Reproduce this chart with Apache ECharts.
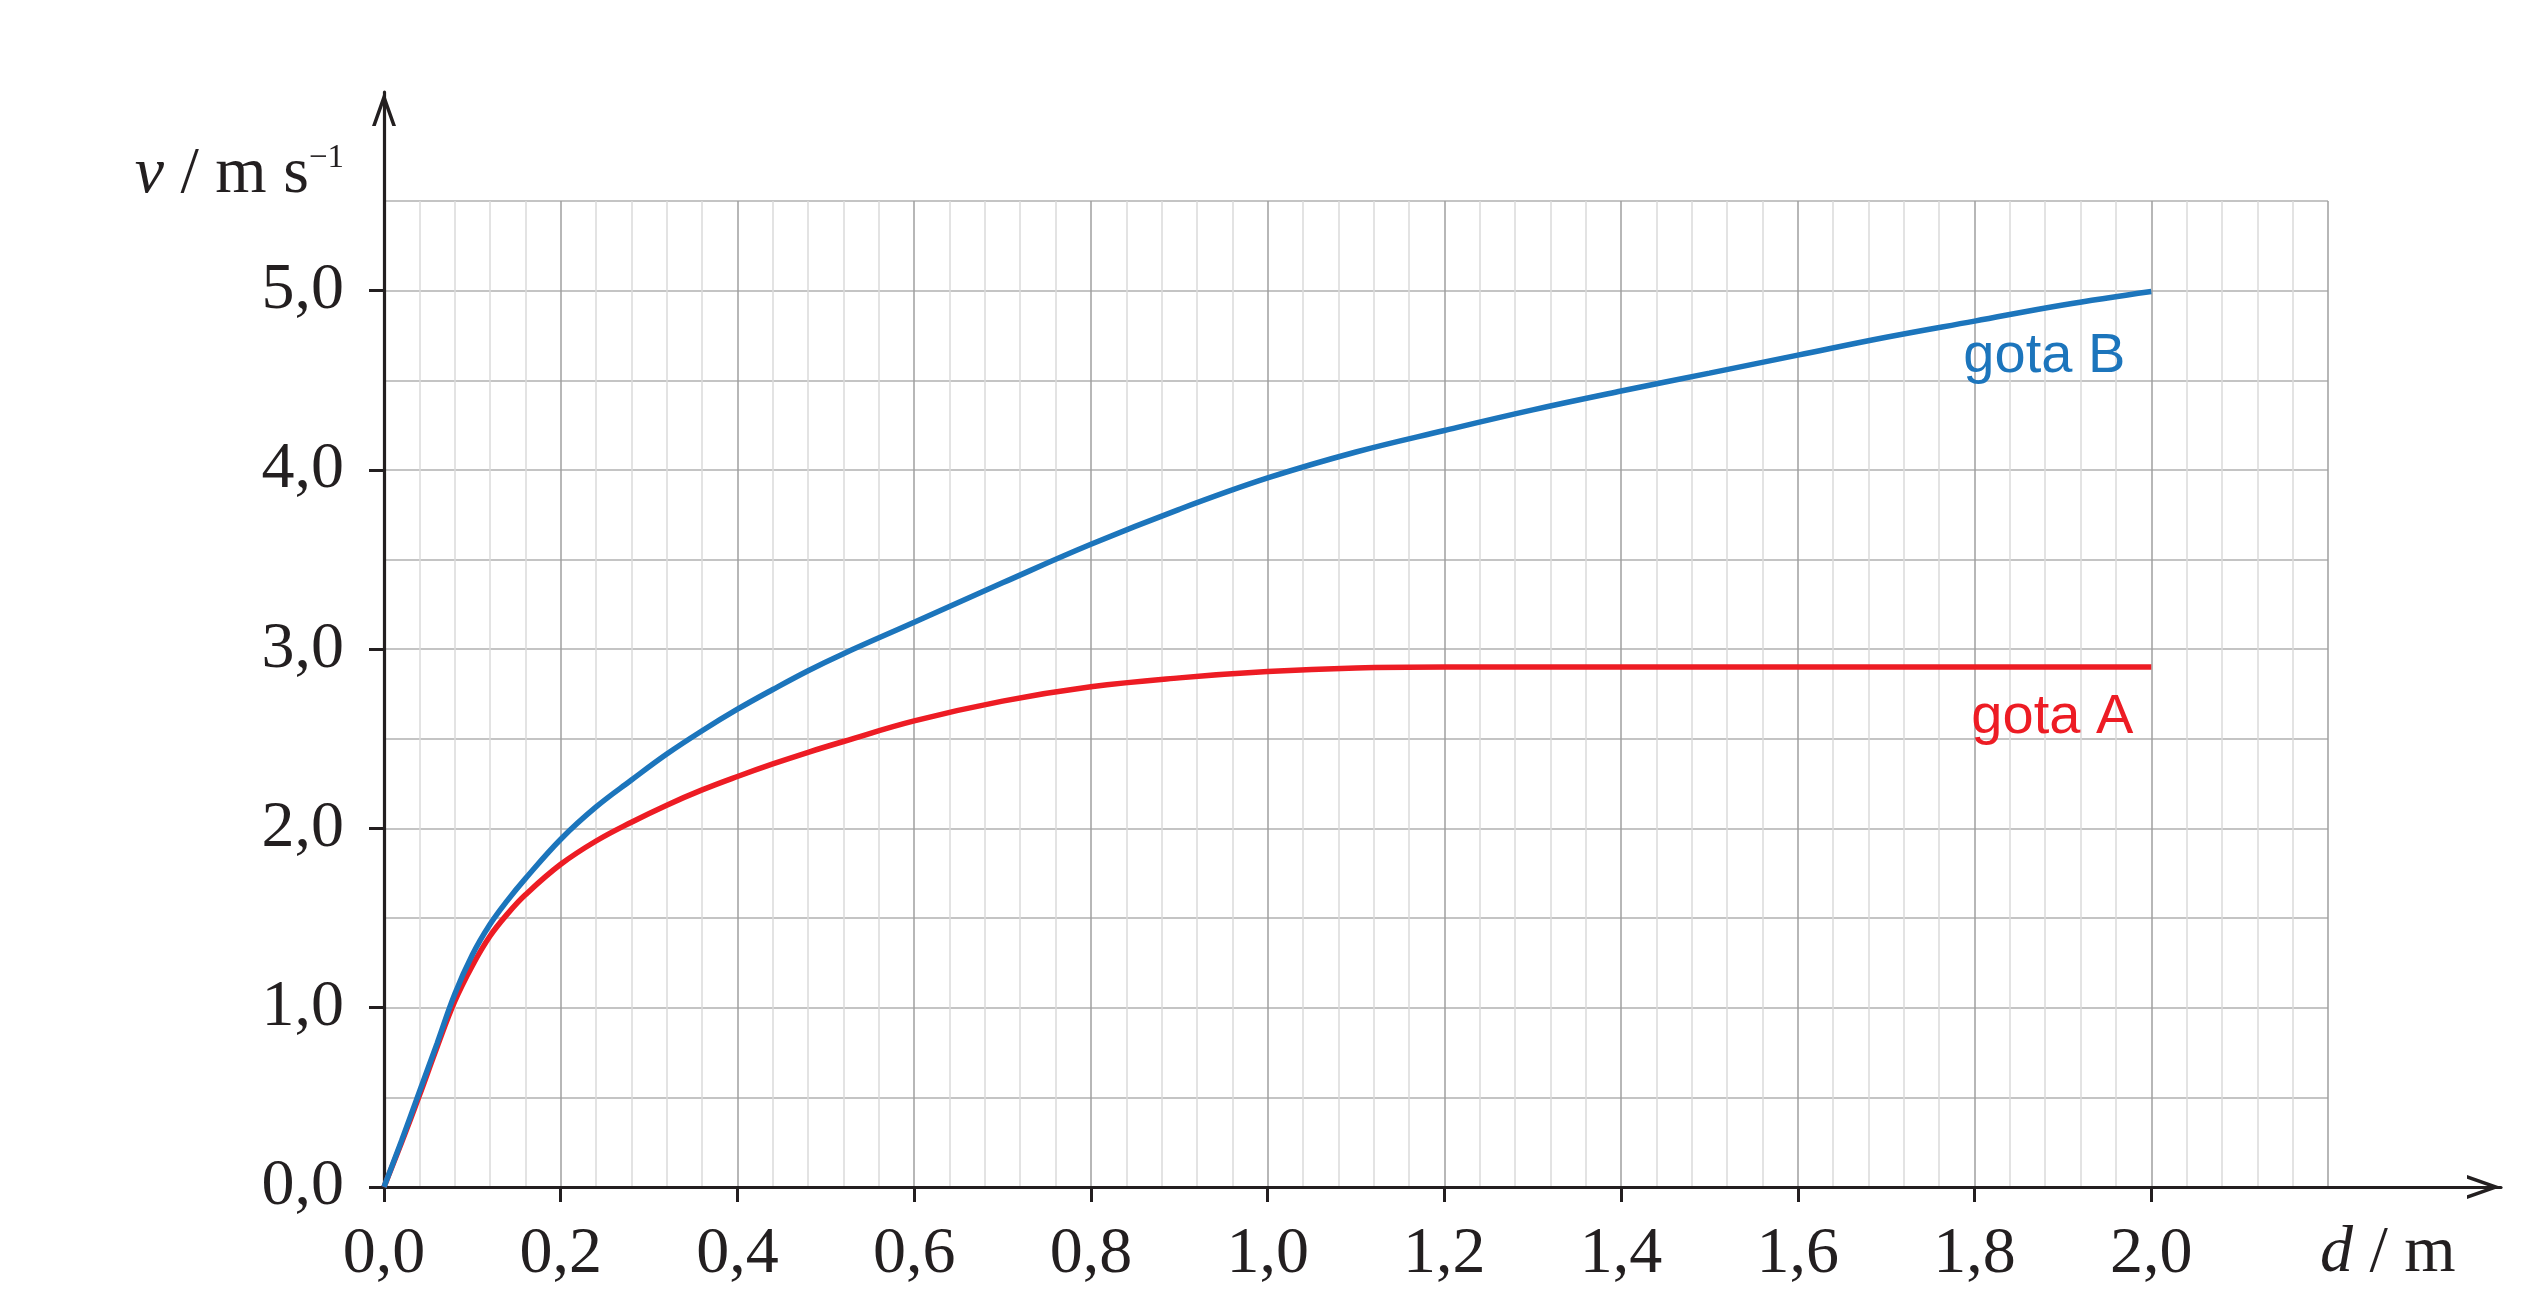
<!DOCTYPE html>
<html>
<head>
<meta charset="utf-8">
<script src="https://cdn.jsdelivr.net/npm/echarts@6/dist/echarts.min.js"></script>
<style>
html,body{margin:0;padding:0;background:#ffffff;}
#chart{width:2532px;height:1308px;}
</style>
</head>
<body>
<div id="chart"></div>
<script>
// ---------- data ----------
const seriesNames = ['gota A', 'gota B'];

// gota A (red)
const dA = [0, 0.02, 0.04, 0.06, 0.08, 0.10, 0.12, 0.14, 0.16, 0.20, 0.24, 0.28, 0.32, 0.36, 0.40, 0.44, 0.48, 0.52, 0.60, 0.70, 0.80, 0.90, 1.00, 1.10, 1.20, 1.40, 1.60, 1.80, 2.00];
const vA = [0, 0.25, 0.51, 0.78, 1.035, 1.235, 1.40, 1.525, 1.63, 1.80, 1.93, 2.035, 2.13, 2.215, 2.29, 2.36, 2.425, 2.485, 2.60, 2.71, 2.79, 2.84, 2.875, 2.895, 2.90, 2.90, 2.90, 2.90, 2.90];

// gota B (blue)
const dB = [0, 0.02, 0.04, 0.06, 0.08, 0.10, 0.12, 0.14, 0.16, 0.20, 0.24, 0.28, 0.32, 0.36, 0.40, 0.44, 0.48, 0.52, 0.60, 0.70, 0.80, 0.90, 1.00, 1.10, 1.20, 1.30, 1.40, 1.50, 1.60, 1.70, 1.80, 1.90, 2.00];
const vB = [0, 0.26, 0.53, 0.80, 1.075, 1.295, 1.465, 1.60, 1.72, 1.94, 2.12, 2.27, 2.415, 2.545, 2.665, 2.775, 2.88, 2.975, 3.15, 3.37, 3.585, 3.78, 3.955, 4.10, 4.22, 4.335, 4.44, 4.54, 4.64, 4.74, 4.83, 4.92, 4.995];

// ticks
const xTickValues = [0, 0.2, 0.4, 0.6, 0.8, 1.0, 1.2, 1.4, 1.6, 1.8, 2.0];
const xTickLabels = ['0,0', '0,2', '0,4', '0,6', '0,8', '1,0', '1,2', '1,4', '1,6', '1,8', '2,0'];
const yTickValues = [0, 1, 2, 3, 4, 5];
const yTickLabels = ['0,0', '1,0', '2,0', '3,0', '4,0', '5,0'];

// axis names
const xNameRich = '{i|d} / m';
const yNameRich = '{i|v} / m s{sup|\u22121}';

// ---------- layout / style ----------
const W = 2532, H = 1308;
const gridLeft = 384, gridBottomPx = 1187, gridRightPx = 2328, gridTopPx = 201;
const arrowXPx = 2501, arrowYPx = 92;
const xMax = 2.2, yMax = 5.5;
const xMaxExt = xMax * (arrowXPx - gridLeft) / (gridRightPx - gridLeft);
const yMaxExt = yMax * (gridBottomPx - arrowYPx) / (gridBottomPx - gridTopPx);

const ink = '#231f20';
const blue = '#1c75bc';
const red = '#ed1c24';
const serif = '"Liberation Serif", "Times New Roman", serif';
const sans = '"Liberation Sans", Arial, sans-serif';
const arrowPath = 'path://M12,0 L24,34 L20.3,34 L12,10.5 L3.7,34 L0,34 Z';

function pick(values, labels) {
  return function (val) {
    for (let i = 0; i < values.length; i++) {
      if (Math.abs(values[i] - val) < 1e-6) return labels[i];
    }
    return '';
  };
}
function pairs(xs, ys) { return xs.map((x, i) => [x, ys[i]]); }

const chart = echarts.init(document.getElementById('chart'), null, {renderer: 'canvas'});

const option = {
  backgroundColor: '#ffffff',
  animation: false,
  grid: [
    {left: gridLeft, top: gridTopPx, right: W - gridRightPx, bottom: H - gridBottomPx, containLabel: false, outerBoundsMode: 'none'},
    {left: gridLeft, top: arrowYPx, right: W - arrowXPx, bottom: H - gridBottomPx, containLabel: false, outerBoundsMode: 'none'}
  ],
  xAxis: [
    {
      gridIndex: 0, type: 'value', min: 0, max: xMax, interval: 0.2, z: 0,
      axisLine: {show: false}, axisTick: {show: false}, axisLabel: {show: false},
      splitLine: {show: true, lineStyle: {color: '#9f9f9f', width: 1.5}},
      minorTick: {show: false, splitNumber: 5},
      minorSplitLine: {show: true, lineStyle: {color: '#dadada', width: 1.5}}
    },
    {
      gridIndex: 1, type: 'value', min: 0, max: xMaxExt, z: 1,
      axisLine: {show: true, onZero: false, symbol: ['none', arrowPath], symbolSize: [24, 34], symbolOffset: [0, -17],
        lineStyle: {color: ink, width: 3.2}},
      axisTick: {show: true, inside: false, length: 15, customValues: xTickValues, lineStyle: {color: ink, width: 3}},
      axisLabel: {show: true, customValues: xTickValues, formatter: pick(xTickValues, xTickLabels), margin: 35,
        fontFamily: serif, fontSize: 66, color: ink},
      splitLine: {show: false}
    }
  ],
  yAxis: [
    {
      gridIndex: 0, type: 'value', min: 0, max: yMax, interval: 0.5, z: 0,
      axisLine: {show: false}, axisTick: {show: false}, axisLabel: {show: false},
      splitLine: {show: true, lineStyle: {color: '#b0b0b0', width: 1.5}}
    },
    {
      gridIndex: 1, type: 'value', min: 0, max: yMaxExt, z: 1,
      axisLine: {show: true, onZero: false, symbol: ['none', arrowPath], symbolSize: [24, 34], symbolOffset: [0, -17],
        lineStyle: {color: ink, width: 3.2}},
      axisTick: {show: true, inside: false, length: 15, customValues: yTickValues, lineStyle: {color: ink, width: 3}},
      axisLabel: {show: true, customValues: yTickValues, formatter: pick(yTickValues, yTickLabels), margin: 40,
        fontFamily: serif, fontSize: 66, color: ink},
      splitLine: {show: false}
    }
  ],
  series: [
    {
      name: seriesNames[0], type: 'line', xAxisIndex: 0, yAxisIndex: 0, z: 2,
      data: pairs(dA, vA), showSymbol: false, smooth: 0.4,
      lineStyle: {color: red, width: 5.5}, itemStyle: {color: red},
      markPoint: {
        symbol: 'circle', symbolSize: 1, itemStyle: {color: 'rgba(0,0,0,0)'}, silent: true,
        label: {show: true, position: 'inside', formatter: seriesNames[0], align: 'right', verticalAlign: 'middle',
          offset: [-18, 50], fontFamily: sans, fontSize: 56, color: red},
        data: [{coord: [dA[dA.length - 1], vA[vA.length - 1]]}]
      }
    },
    {
      name: seriesNames[1], type: 'line', xAxisIndex: 0, yAxisIndex: 0, z: 2,
      data: pairs(dB, vB), showSymbol: false, smooth: 0.4,
      lineStyle: {color: blue, width: 5.5}, itemStyle: {color: blue},
      markPoint: {
        symbol: 'circle', symbolSize: 1, itemStyle: {color: 'rgba(0,0,0,0)'}, silent: true,
        label: {show: true, position: 'inside', formatter: seriesNames[1], align: 'right', verticalAlign: 'middle',
          offset: [-26, 65], fontFamily: sans, fontSize: 56, color: blue},
        data: [{coord: [dB[dB.length - 1], vB[vB.length - 1]]}]
      }
    }
  ],
  graphic: [
    {
      type: 'text', x: 344, y: 174.5, z: 10,
      style: {
        text: yNameRich, align: 'right', verticalAlign: 'middle',
        fontFamily: serif, fontSize: 66, fill: ink,
        rich: {
          i: {fontStyle: 'italic', fontFamily: serif, fontSize: 66, fill: ink},
          sup: {fontFamily: serif, fontSize: 33, verticalAlign: 'top', fill: ink}
        }
      }
    },
    {
      type: 'text', x: 2320, y: 1254, z: 10,
      style: {
        text: xNameRich, align: 'left', verticalAlign: 'middle',
        fontFamily: serif, fontSize: 66, fill: ink,
        rich: {
          i: {fontStyle: 'italic', fontFamily: serif, fontSize: 66, fill: ink}
        }
      }
    }
  ]
};
chart.setOption(option);
</script>
</body>
</html>
